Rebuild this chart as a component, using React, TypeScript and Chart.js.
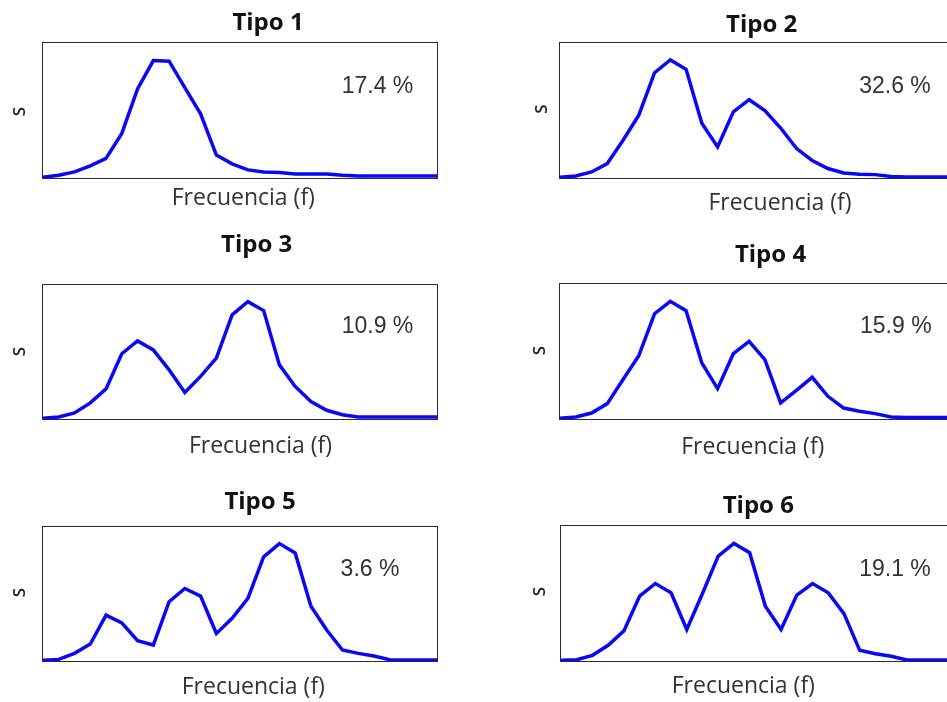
import React, { useEffect, useRef } from "react";
import { Chart, registerables } from "chart.js";

Chart.register(...registerables);

// ---- data ----
const FREQ_BINS = [
  "1", "2", "3", "4", "5", "6", "7", "8", "9", "10", "11", "12", "13",
  "14", "15", "16", "17", "18", "19", "20", "21", "22", "23", "24", "25", "26",
];

const TIPO_1 = [0.005, 0.02, 0.045, 0.09, 0.145, 0.33, 0.66, 0.87, 0.865, 0.67, 0.475, 0.17, 0.105, 0.06, 0.045, 0.04, 0.03, 0.03, 0.03, 0.02, 0.015, 0.015, 0.015, 0.015, 0.015, 0.015];
const TIPO_2 = [0.005, 0.015, 0.045, 0.107, 0.28, 0.465, 0.78, 0.875, 0.805, 0.405, 0.23, 0.49, 0.58, 0.5, 0.37, 0.22, 0.13, 0.07, 0.037, 0.027, 0.025, 0.012, 0.008, 0.008, 0.008, 0.008];
const TIPO_3 = [0.005, 0.015, 0.045, 0.12, 0.225, 0.487, 0.583, 0.516, 0.367, 0.198, 0.318, 0.455, 0.777, 0.876, 0.809, 0.404, 0.243, 0.13, 0.065, 0.032, 0.015, 0.015, 0.015, 0.015, 0.015, 0.015];
const TIPO_4 = [0.005, 0.015, 0.044, 0.114, 0.292, 0.469, 0.78, 0.872, 0.802, 0.415, 0.225, 0.484, 0.575, 0.44, 0.119, 0.212, 0.309, 0.168, 0.081, 0.057, 0.04, 0.015, 0.012, 0.012, 0.012, 0.012];
const TIPO_5 = [0.005, 0.012, 0.057, 0.127, 0.342, 0.285, 0.151, 0.119, 0.442, 0.541, 0.484, 0.206, 0.318, 0.467, 0.777, 0.876, 0.806, 0.409, 0.231, 0.082, 0.057, 0.037, 0.01, 0.008, 0.008, 0.008];
const TIPO_6 = [0.005, 0.01, 0.042, 0.116, 0.223, 0.48, 0.574, 0.505, 0.233, 0.5, 0.777, 0.871, 0.802, 0.406, 0.233, 0.488, 0.574, 0.505, 0.351, 0.079, 0.054, 0.035, 0.008, 0.008, 0.008, 0.008];

const SERIES = [TIPO_1, TIPO_2, TIPO_3, TIPO_4, TIPO_5, TIPO_6];
const TITLES = ["Tipo 1", "Tipo 2", "Tipo 3", "Tipo 4", "Tipo 5", "Tipo 6"];
const PERCENTS = ["17.4 %", "32.6 %", "10.9 %", "15.9 %", "3.6 %", "19.1 %"];
const X_LABEL = "Frecuencia (f)";
const Y_LABEL = "S";

// ---- layout (page pixels) ----
type Layout = {
  canvas: [number, number, number, number]; // left, top, width, height
  box: [number, number, number, number]; // left, top, right, bottom
  title: [number, number];
  pct: [number, number];
  xlab: [number, number];
  ylab: [number, number];
};

const LAYOUTS: Layout[] = [
  { canvas: [0, 0, 480, 230], box: [43, 43, 437, 178], title: [268, 30], pct: [377.5, 92.7], xlab: [243.3, 205], ylab: [20, 111.7] },
  { canvas: [520, 0, 440, 230], box: [560, 43, 954, 178], title: [761.7, 32.3], pct: [895, 92.7], xlab: [780, 210], ylab: [541.7, 109] },
  { canvas: [0, 230, 480, 240], box: [43, 285, 437, 419], title: [256.7, 251.7], pct: [377.5, 333.3], xlab: [260.5, 452.7], ylab: [20, 351.7] },
  { canvas: [520, 230, 440, 240], box: [560, 284, 954, 419], title: [770.5, 261.7], pct: [895.8, 333.3], xlab: [752.8, 454], ylab: [540, 350.7] },
  { canvas: [0, 470, 480, 232], box: [43, 527, 437, 661], title: [260, 509.3], pct: [370, 576], xlab: [253.3, 694], ylab: [20, 592.7] },
  { canvas: [520, 470, 440, 232], box: [561, 526, 954, 661], title: [758.3, 513.3], pct: [895, 576], xlab: [743.3, 693.3], ylab: [540.5, 591.7] },
];

function Panel({ idx }: { idx: number }) {
  const ref = useRef<HTMLCanvasElement | null>(null);
  const L = LAYOUTS[idx];
  const [cl, ct, cw, ch] = L.canvas;

  useEffect(() => {
    if (!ref.current) return;
    const [bl, bt, br, bb] = L.box;
    const decor = {
      id: "decor" + idx,
      afterDraw(chart: any) {
        const ctx = chart.ctx as CanvasRenderingContext2D;
        const a = chart.chartArea;
        ctx.save();
        // frame
        ctx.strokeStyle = "#2b2b2b";
        ctx.lineWidth = 1;
        ctx.strokeRect(Math.round(a.left) - 0.5, Math.round(a.top) - 0.5, Math.round(a.right - a.left) + 1, Math.round(a.bottom - a.top) + 1);
        // title
        ctx.fillStyle = "#111";
        ctx.textAlign = "center";
        ctx.textBaseline = "alphabetic";
        ctx.font = "bold 24px 'Open Sans'";
        ctx.fillText(TITLES[idx], L.title[0] - cl, L.title[1] - ct);
        // percentage
        ctx.fillStyle = "#333";
        ctx.font = "23px 'Liberation Sans'";
        ctx.fillText(PERCENTS[idx], L.pct[0] - cl, L.pct[1] - ct);
        // x label
        ctx.font = "23px 'Open Sans'";
        ctx.fillText(X_LABEL, L.xlab[0] - cl, L.xlab[1] - ct);
        // y label
        ctx.translate(L.ylab[0] - cl, L.ylab[1] - ct);
        ctx.rotate(-Math.PI / 2);
        ctx.textBaseline = "middle";
        ctx.fillStyle = "#222";
        ctx.font = "600 17px 'Open Sans'";
        ctx.fillText(Y_LABEL, 0, 0);
        ctx.restore();
      },
    };
    const chart = new Chart(ref.current, {
      type: "line",
      data: {
        labels: FREQ_BINS,
        datasets: [
          {
            data: SERIES[idx],
            borderColor: "#0808f8",
            borderWidth: 3.5,
            pointRadius: 0,
            tension: 0,
            fill: false,
            clip: false as any,
          },
        ],
      },
      options: {
        responsive: false,
        animation: false,
        devicePixelRatio: 1,
        layout: {
          padding: { left: bl - cl, top: bt - ct, right: cl + cw - br, bottom: ct + ch - bb },
        },
        plugins: { legend: { display: false }, tooltip: { enabled: false }, title: { display: false } },
        scales: {
          x: { type: "category", display: false, offset: false },
          y: { display: false, min: 0, max: 1 },
        },
      },
      plugins: [decor],
    });
    return () => chart.destroy();
  }, [idx]);

  return (
    <canvas
      ref={ref}
      width={cw}
      height={ch}
      style={{ position: "absolute", left: cl, top: ct, width: cw, height: ch }}
    />
  );
}

export default function App() {
  return (
    <div
      style={{
        position: "fixed",
        left: 0,
        top: 0,
        width: 947,
        height: 702,
        overflow: "hidden",
        background: "#fff",
      }}
    >
      {SERIES.map((_, i) => (
        <Panel key={i} idx={i} />
      ))}
    </div>
  );
}
